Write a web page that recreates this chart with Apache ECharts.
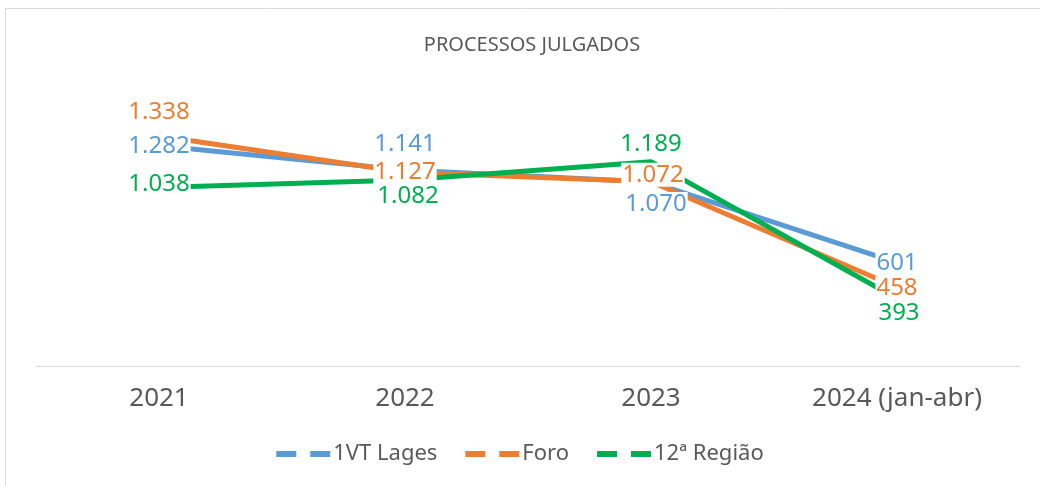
<!DOCTYPE html>
<html>
<head>
<meta charset="utf-8">
<script src="https://cdn.jsdelivr.net/npm/echarts@6/dist/echarts.min.js"></script>
<style>
  html, body { margin: 0; padding: 0; background: #fff; }
  #chart { width: 1040px; height: 486px; }
</style>
</head>
<body>
<div id="chart"></div>
<script>
var categories = ['2021', '2022', '2023', '2024 (jan-abr)'];
var seriesNames = ['1VT Lages', 'Foro', '12ª Região'];
var vtLages = [1282, 1141, 1070, 601];
var foro = [1338, 1127, 1072, 458];
var regiao12 = [1038, 1082, 1189, 393];

var colors = ['#5B9BD5', '#ED7D31', '#00B050'];
// where each data label sits relative to its point (px)
var labelOffsets = [
  [[0, 0], [0, -26], [5, 22], [0, 0]],
  [[0, -24], [0, 0], [2, -7], [0, 1]],
  [[0, -3], [3, 16], [0, -17], [2, 15]]
];

function fmt(v) {
  return v.toLocaleString('pt-BR');
}

function makeSeries(idx, values) {
  return {
    name: seriesNames[idx],
    type: 'line',
    data: values.map(function (v, i) {
      return { value: v, label: { offset: labelOffsets[idx][i] } };
    }),
    symbol: 'circle',
    symbolSize: 1,
    showSymbol: true,
    itemStyle: { color: colors[idx], opacity: 0 },
    lineStyle: { width: 5, color: colors[idx] },
    emphasis: { disabled: true },
    label: {
      show: true,
      position: 'inside',
      formatter: function (p) { return fmt(p.value); },
      color: colors[idx],
      fontFamily: 'Noto Sans',
      fontSize: 24,
      backgroundColor: '#fff',
      padding: [0, 1],
      opacity: 1
    }
  };
}

var chart = echarts.init(document.getElementById('chart'));
var option = {
  animation: false,
  backgroundColor: '#fff',
  title: {
    text: 'PROCESSOS JULGADOS',
    left: 527,
    textAlign: 'center',
    top: 30,
    textStyle: { fontFamily: 'Noto Sans', fontSize: 20, fontWeight: 'normal', color: '#595959' }
  },
  graphic: [{
    type: 'rect',
    shape: { x: 5.5, y: 8.5, width: 1200, height: 700 },
    style: { fill: 'none', stroke: '#d9d9d9', lineWidth: 1 },
    silent: true
  }],
  legend: {
    bottom: 16,
    left: 'center',
    itemWidth: 54,
    itemHeight: 6,
    itemGap: 28,
    icon: 'path://M0,0H20V6H0Z M34,0H54V6H34Z',
    textStyle: { fontFamily: 'Noto Sans', fontSize: 22, color: '#595959', padding: [0, 0, 0, -2] },
    data: seriesNames.map(function (n, i) {
      return { name: n, itemStyle: { color: colors[i], opacity: 1 } };
    })
  },
  grid: { left: 36, right: 20, top: 91, bottom: 120 },
  xAxis: {
    type: 'category',
    data: categories,
    axisLine: { lineStyle: { color: '#d9d9d9', width: 1 } },
    axisTick: { show: false },
    axisLabel: { fontFamily: 'Noto Sans', fontSize: 26, color: '#595959', margin: 20 }
  },
  yAxis: {
    type: 'value',
    min: 0,
    max: 1600,
    show: false,
    splitLine: { show: false }
  },
  series: [
    makeSeries(0, vtLages),
    makeSeries(1, foro),
    makeSeries(2, regiao12)
  ]
};
chart.setOption(option);
</script>
</body>
</html>
